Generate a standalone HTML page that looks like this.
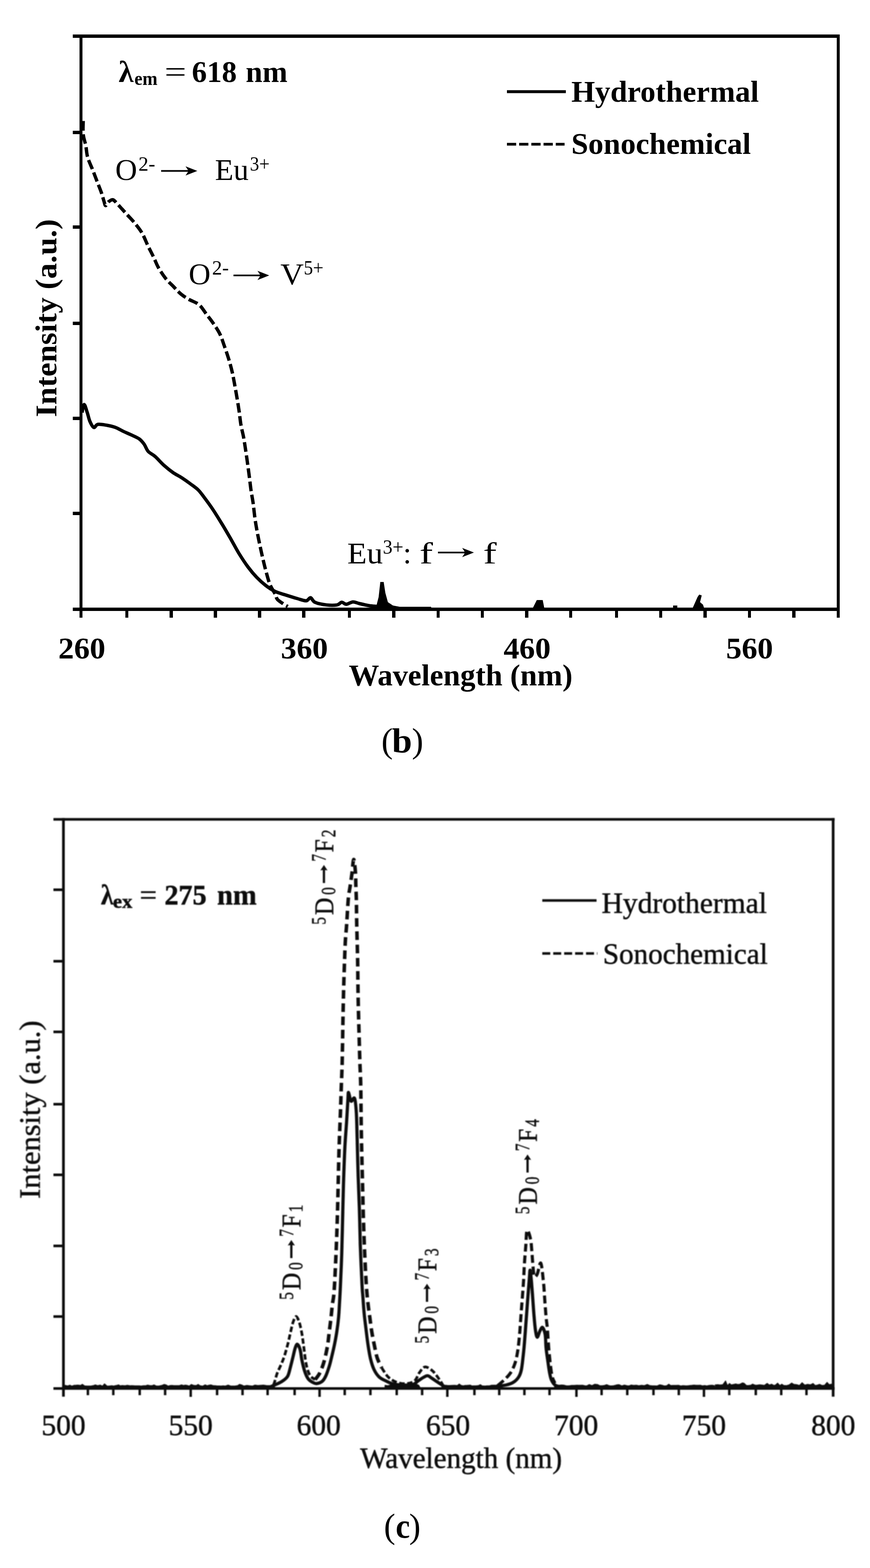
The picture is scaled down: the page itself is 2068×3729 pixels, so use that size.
<!DOCTYPE html>
<html lang="en">
<head>
<meta charset="utf-8">
<title>Excitation and emission spectra</title>
<style>
html,body{margin:0;padding:0;background:#fff;}
body{width:2068px;height:3729px;overflow:hidden;font-family:"Liberation Serif",serif;}
svg{display:block;}
svg text{font-family:"Liberation Serif",serif;fill:#000;}
.cap{font-family:"Liberation Serif",serif;}
</style>
</head>
<body>
<svg width="2068" height="3729" viewBox="0 0 2068 3729">
<rect width="2068" height="3729" fill="#fff"/>
<g id="chart-b">
<g fill="#000" shape-rendering="crispEdges">
<rect x="173" y="82" width="1823" height="8"/>
<rect x="173" y="1445" width="1823" height="8"/>
<rect x="189" y="82" width="7" height="1387"/>
<rect x="1988.5" y="82" width="7.5" height="1387"/>
<rect x="173" y="311" width="18" height="8"/>
<rect x="173" y="536" width="18" height="8"/>
<rect x="173" y="765" width="18" height="8"/>
<rect x="173" y="991" width="18" height="8"/>
<rect x="173" y="1217" width="18" height="8"/>
<rect x="297.7" y="1450" width="7.4" height="19"/>
<rect x="403.3" y="1450" width="7.4" height="19"/>
<rect x="508.2" y="1450" width="7.4" height="19"/>
<rect x="613.2" y="1450" width="7.4" height="19"/>
<rect x="718.2" y="1450" width="7.4" height="19"/>
<rect x="826.7" y="1450" width="7.4" height="19"/>
<rect x="932.3" y="1450" width="7.4" height="19"/>
<rect x="1037.7" y="1450" width="7.4" height="19"/>
<rect x="1142.9" y="1450" width="7.4" height="19"/>
<rect x="1248.1" y="1450" width="7.4" height="19"/>
<rect x="1352.9" y="1450" width="7.4" height="19"/>
<rect x="1461.6" y="1450" width="7.4" height="19"/>
<rect x="1566.8" y="1450" width="7.4" height="19"/>
<rect x="1672.3" y="1450" width="7.4" height="19"/>
<rect x="1777.8" y="1450" width="7.4" height="19"/>
<rect x="1883.3" y="1450" width="7.4" height="19"/>
</g>
<path d="M195,981 C195.8,977.8 197.9,962 200,962 C202.1,962 205,974.2 207.3,980.9 C209.6,987.5 211,995.9 213.6,1001.9 C216.2,1007.9 219.8,1015.4 223,1016.6 C226.2,1017.8 227.4,1010.1 232.5,1009.2 C237.6,1008.3 246.5,1010.1 253.5,1011.3 C260.5,1012.5 267.9,1014.1 274.5,1016.6 C281.1,1019.1 287.1,1023 293.4,1026 C299.7,1029 306,1031.4 312.3,1034.4 C318.6,1037.4 326.1,1040.2 331.2,1043.9 C336.3,1047.6 339.2,1051.6 342.7,1056.5 C346.2,1061.4 347.7,1068.4 352.1,1073.3 C356.5,1078.2 362.6,1080.2 368.9,1085.8 C375.2,1091.4 382.9,1100.5 389.9,1106.8 C396.9,1113.1 403.9,1118.7 410.9,1123.6 C417.9,1128.5 424.9,1131.7 431.9,1136.2 C438.9,1140.8 446.4,1146.1 452.9,1150.9 C459.4,1155.7 465.4,1159.5 471,1165 C476.6,1170.5 480.2,1176.1 486.3,1184.2 C492.4,1192.3 500.3,1203.1 507.3,1213.6 C514.3,1224.1 521.3,1235.7 528.3,1247.2 C535.3,1258.8 542.6,1271.4 549.3,1282.9 C555.9,1294.5 561.6,1305.7 568.2,1316.5 C574.9,1327.3 582.2,1338.6 589.2,1348 C596.2,1357.4 603.2,1365.8 610.2,1373.1 C617.2,1380.4 623.9,1386.4 631.2,1392 C638.5,1397.6 646.2,1402.9 654.2,1406.7 C662.2,1410.5 670.6,1412.3 679.4,1415.1 C688.1,1417.9 698.7,1421.2 706.7,1423.5 C714.8,1425.8 722.5,1429.1 727.7,1428.8 C733,1428.5 734.7,1420.8 738.2,1421.4 C741.7,1422 742.4,1429.4 748.7,1432.3 C755,1435.2 767.2,1437.5 776,1438.6 C784.8,1439.6 795.2,1439.6 801.2,1438.6 C807.2,1437.5 808.5,1432.6 812.2,1432.3 C815.9,1432 818.7,1437.2 823.2,1437 C827.7,1436.8 833.8,1431.7 839,1431.4 C844.2,1431.2 848.4,1434 854.7,1435.5 C861,1437 869.9,1439.1 876.7,1440.2 C883.5,1441.3 892.5,1441.7 895.6,1442" fill="none" stroke="#000" stroke-width="8" stroke-linejoin="round"/>
<path d="M197.8,287.8 C197.8,293.1 196.8,309.5 197.8,319.3 C198.8,329.1 202.2,337.5 204,346.6 C205.8,355.7 205.6,364.4 208.3,373.9 C211,383.3 216.3,393.9 220,403.3 C223.7,412.7 226.9,421.4 230.4,430.5 C233.9,439.6 238.1,449.9 240.9,457.8 C243.7,465.7 245.3,472.8 247,478 C248.7,483.2 249.2,488.7 251,489 C252.8,489.3 255.1,482.3 258,480 C260.9,477.7 264.7,474.2 268.2,475 C271.7,475.8 275.4,481.3 279,485 C282.6,488.7 285.8,492.4 290,497 C294.2,501.6 298.8,506.8 304,512.5 C309.2,518.2 315.4,524.5 321,531.5 C326.6,538.5 332.7,545.9 337.8,554.6 C342.9,563.4 346.9,574.5 351.4,584 C355.9,593.5 360.8,602.5 365,611.3 C369.2,620 371.9,628.1 376.6,636.5 C381.3,644.9 387.3,654 393.4,661.7 C399.5,669.4 407.3,676.3 413.4,682.6 C419.5,688.9 424.3,694.5 430.2,699.4 C436.1,704.3 441.8,707.8 449,712 C456.2,716.2 466.2,718.6 473.2,724.6 C480.2,730.6 485.4,740.4 491,747.7 C496.6,755.1 501.6,761 506.8,768.7 C512,776.4 518.1,785.1 522.5,794 C526.9,802.9 529.5,812.1 533,822 C536.5,831.9 540.3,842.9 543.5,853.4 C546.7,863.9 549.7,875.1 552,885 C554.3,894.9 555.5,902.2 557.5,913 C559.5,923.8 562.1,938.9 564,950 C565.9,961.1 567.1,969.2 568.6,979.4 C570.1,989.5 571,1000.8 572.8,1010.9 C574.5,1021 577.2,1029.8 579.1,1040.3 C581,1050.8 582.8,1063.4 584.4,1073.9 C586,1084.4 587.2,1093.2 588.6,1103.3 C590,1113.4 591.4,1123.9 592.8,1134.7 C594.2,1145.5 595.5,1158.2 597,1168.3 C598.5,1178.3 600,1184.3 601.5,1195 C603,1205.7 604.4,1221 606,1232.5 C607.6,1244 609.3,1253.5 611.2,1264 C613.1,1274.5 615.2,1284.7 617.5,1295.5 C619.8,1306.3 622.4,1318.5 624.9,1329 C627.4,1339.5 629.4,1348.2 632.2,1358.4 C635,1368.6 638,1380.9 641.7,1390 C645.4,1399.1 651.2,1407.1 654.2,1413 C657.2,1418.9 656,1421.6 659.5,1425.6 C663,1429.6 671.1,1434.4 675.2,1437.2 C679.3,1440 682.5,1441.5 684,1442.4" fill="none" stroke="#000" stroke-width="8" stroke-dasharray="23 8.5"/>
<g fill="#000">
<path d="M893,1447 L900,1420 L904,1384 L912,1384 L916,1410 L922,1432 L934,1440 L950,1443 L1025,1443 L1025,1447 Z"/>
<path d="M1266,1447 L1276,1427 L1290,1427 L1294,1447 Z"/>
<path d="M1646,1447 L1658,1420 L1662,1414 L1668,1416 L1664,1432 L1671,1438 L1674,1447 Z"/>
<rect x="1600" y="1440" width="10" height="6"/>
</g>
<path d="M383,404.5 L447,404.5 L441,395.5 L469,406.5 L441,417.5 L447,408.5 L383,408.5 Z" fill="#000"/>
<path d="M555,653 L618,653 L612,644 L640,655 L612,666 L618,657 L555,657 Z" fill="#000"/>
<path d="M1041,1312 L1104.5,1312 L1098.5,1303 L1126.5,1314 L1098.5,1325 L1104.5,1316 L1041,1316 Z" fill="#000"/>
<text font-size="72" font-weight="bold"><tspan x="282" y="194.5">λ</tspan><tspan x="319.5" y="202" font-size="46" textLength="55" lengthAdjust="spacingAndGlyphs">em</tspan> <tspan x="391" y="194.5" font-weight="normal" textLength="52" lengthAdjust="spacingAndGlyphs">=</tspan> <tspan x="456" textLength="107" lengthAdjust="spacingAndGlyphs">618</tspan> <tspan x="584" textLength="99.5" lengthAdjust="spacingAndGlyphs">nm</tspan></text>
<g font-weight="bold">
<text x="1358" y="242" font-size="72" textLength="446" lengthAdjust="spacingAndGlyphs">Hydrothermal</text>
<text x="1358" y="366" font-size="72" textLength="427" lengthAdjust="spacingAndGlyphs">Sonochemical</text>
<text x="138.6" y="1566" font-size="72" textLength="112" lengthAdjust="spacingAndGlyphs">260</text>
<text x="667.6" y="1566" font-size="72" textLength="112" lengthAdjust="spacingAndGlyphs">360</text>
<text x="1197" y="1566" font-size="72" textLength="112" lengthAdjust="spacingAndGlyphs">460</text>
<text x="1725.7" y="1566" font-size="72" textLength="112" lengthAdjust="spacingAndGlyphs">560</text>
<text x="829" y="1630" font-size="72" textLength="532" lengthAdjust="spacingAndGlyphs">Wavelength (nm)</text>
<text transform="translate(134,992) rotate(-90)" font-size="72" textLength="471" lengthAdjust="spacingAndGlyphs">Intensity (a.u.)</text>
</g>
<rect x="1205" y="214.5" width="140" height="7" fill="#000"/>
<path d="M1205,343 H1342" stroke="#000" stroke-width="6.4" stroke-dasharray="22 7" fill="none"/>
<text font-size="72"><tspan x="274" y="427.5">O</tspan><tspan x="329" y="406" font-size="48">2-</tspan> <tspan x="511" y="427.5">Eu</tspan><tspan x="594" y="406" font-size="48" textLength="47" lengthAdjust="spacingAndGlyphs">3+</tspan></text>
<text font-size="72"><tspan x="448.5" y="676">O</tspan><tspan x="504" y="653" font-size="48">2-</tspan> <tspan x="666.5" y="676" textLength="55.5" lengthAdjust="spacingAndGlyphs">V</tspan><tspan x="722" y="653" font-size="48" textLength="47" lengthAdjust="spacingAndGlyphs">5+</tspan></text>
<text font-size="72"><tspan x="825.5" y="1339.5" textLength="84.5" lengthAdjust="spacingAndGlyphs">Eu</tspan><tspan x="910" y="1316.5" font-size="48" textLength="49" lengthAdjust="spacingAndGlyphs">3+</tspan><tspan x="958" y="1339.5">:</tspan> <tspan x="997" textLength="32" lengthAdjust="spacingAndGlyphs">f</tspan> <tspan x="1148.5" textLength="32" lengthAdjust="spacingAndGlyphs">f</tspan></text>
<text class="cap" y="1789" font-size="82"><tspan x="906.5">(</tspan><tspan x="931.5" font-weight="bold" textLength="48" lengthAdjust="spacingAndGlyphs">b</tspan><tspan x="979">)</tspan></text>
</g>
<defs><filter id="soft" x="-2%" y="-2%" width="104%" height="104%"><feGaussianBlur stdDeviation="1.15"/></filter></defs>
<g id="chart-c" filter="url(#soft)">
<g fill="#0c0c0c">
<rect x="127" y="1945.5" width="1857" height="6.2"/>
<rect x="127" y="3299" width="1857" height="6.2"/>
<rect x="147.6" y="1945.5" width="6.4" height="1376"/>
<rect x="1977.2" y="1945.5" width="6.4" height="1376"/>
<rect x="127" y="2112.9" width="22" height="6.2"/>
<rect x="127" y="2282.9" width="22" height="6.2"/>
<rect x="127" y="2450.9" width="22" height="6.2"/>
<rect x="127" y="2622.9" width="22" height="6.2"/>
<rect x="127" y="2790.9" width="22" height="6.2"/>
<rect x="127" y="2959.9" width="22" height="6.2"/>
<rect x="127" y="3127.9" width="22" height="6.2"/>
<rect x="206" y="3302" width="5.8" height="16"/>
<rect x="266.4" y="3302" width="5.8" height="16"/>
<rect x="329.2" y="3302" width="5.8" height="16"/>
<rect x="389.6" y="3302" width="5.8" height="16"/>
<rect x="450.4" y="3302" width="5.8" height="20"/>
<rect x="513.1" y="3302" width="5.8" height="16"/>
<rect x="573.6" y="3302" width="5.8" height="16"/>
<rect x="633.2" y="3302" width="5.8" height="16"/>
<rect x="697.4" y="3302" width="5.8" height="16"/>
<rect x="756.7" y="3302" width="5.8" height="20"/>
<rect x="816.5" y="3302" width="5.8" height="16"/>
<rect x="877.6" y="3302" width="5.8" height="16"/>
<rect x="940.1" y="3302" width="5.8" height="16"/>
<rect x="1000.5" y="3302" width="5.8" height="16"/>
<rect x="1060.4" y="3302" width="5.8" height="20"/>
<rect x="1124.8" y="3302" width="5.8" height="16"/>
<rect x="1183.8" y="3302" width="5.8" height="16"/>
<rect x="1243.6" y="3302" width="5.8" height="16"/>
<rect x="1303.3" y="3302" width="5.8" height="16"/>
<rect x="1367.3" y="3302" width="5.8" height="20"/>
<rect x="1427.1" y="3302" width="5.8" height="16"/>
<rect x="1488.1" y="3302" width="5.8" height="16"/>
<rect x="1550.4" y="3302" width="5.8" height="16"/>
<rect x="1610.6" y="3302" width="5.8" height="16"/>
<rect x="1670.4" y="3302" width="5.8" height="20"/>
<rect x="1730.6" y="3302" width="5.8" height="16"/>
<rect x="1793.6" y="3302" width="5.8" height="16"/>
<rect x="1854.1" y="3302" width="5.8" height="16"/>
<rect x="1914.1" y="3302" width="5.8" height="16"/>
</g>
<path d="M154,3302 L154,3294.2 L160.8,3295.7 L166.2,3294 L170.7,3296.2 L176.3,3294.2 L180.5,3294.1 L185.5,3293.7 L191.5,3294.6 L195.7,3291.9 L201.6,3295.8 L207.5,3296.1 L213.1,3296.1 L217.2,3295.8 L221.3,3295.1 L226.7,3293.3 L232.3,3295.1 L238.2,3293.8 L243.6,3296.3 L248.4,3290.7 L254.9,3296.2 L261,3295.8 L265.9,3295.2 L270.1,3296.1 L276.7,3294.6 L281.8,3293.1 L285.8,3295.4 L290.4,3294.7 L297.4,3295.3 L302.6,3294.2 L308.9,3295.2 L313.7,3295 L320.6,3295.5 L326.9,3295.4 L331.2,3295.4 L335.4,3296 L341.1,3295.3 L346.4,3295.3 L350.8,3293.7 L356.7,3295 L361.4,3295.1 L366.2,3293.3 L371.1,3295.7 L377.7,3295.9 L384.3,3294.6 L390.2,3292.2 L394.9,3293.3 L399.6,3296.1 L404.5,3294.8 L408.7,3294.4 L413.5,3295.1 L419.3,3295 L426.2,3295 L431.6,3293.3 L436.2,3294.8 L440.6,3293.7 L445.4,3294.6 L449.9,3296 L454.5,3292.3 L461.4,3294.6 L466.6,3294.7 L471,3292.1 L475.7,3295.3 L481.8,3296.2 L487.6,3293.1 L492.5,3295.1 L496.7,3293.9 L501.3,3293.2 L507.2,3295.1 L512,3295.3 L516.1,3295.7 L520.9,3295.7 L525.4,3296.1 L530.5,3295.5 L535.6,3295.9 L542.3,3293.8 L548.4,3296 L554.1,3296 L558.2,3295.9 L564.9,3295 L569,3292.1 L574.9,3293.6 L579.8,3296 L586.8,3294.4 L593,3295.3 L599.7,3296.1 L606.1,3293.7 L612.9,3294.8 L619.6,3294.2 L626.2,3293.7 L632.8,3294.8 L638.5,3295.1 L644.2,3295.1 L650.1,3294.2 L655,3302 Z" fill="#0c0c0c" stroke="#0c0c0c" stroke-width="1.5" stroke-linejoin="round"/>
<path d="M915,3302 L915,3294.3 L921.6,3295.3 L927.8,3293.7 L933.6,3292.3 L937.8,3294.2 L944.1,3293.1 L949.5,3295 L954.2,3294.8 L960.1,3293.5 L966.8,3295.5 L971.7,3295.2 L977.8,3295.2 L984.5,3294.5 L990.5,3292 L995.4,3294.1 L1000,3302 Z" fill="#0c0c0c" stroke="#0c0c0c" stroke-width="1.5" stroke-linejoin="round"/>
<path d="M1050,3302 L1050,3295.3 L1056.4,3294 L1063.2,3294.6 L1068.9,3294.7 L1073.9,3294.5 L1080.4,3294.2 L1086.9,3294.8 L1091.7,3291.2 L1096.3,3294.5 L1100.9,3295.5 L1106.1,3294.4 L1111.1,3294.3 L1117.6,3293.8 L1121.8,3295.8 L1125.9,3295.6 L1132,3295.6 L1137.8,3294.7 L1141.8,3292.7 L1146.2,3295.6 L1152.7,3295.9 L1157.4,3295.6 L1163.3,3295.5 L1168.7,3294 L1175.1,3293.9 L1181.9,3295.5 L1187.4,3294.8 L1191.9,3293.7 L1195,3302 Z" fill="#0c0c0c" stroke="#0c0c0c" stroke-width="1.5" stroke-linejoin="round"/>
<path d="M1318,3302 L1318,3295.8 L1322.5,3295.7 L1328.6,3294.2 L1334.2,3293.5 L1339.4,3293.8 L1345.7,3295.3 L1352.5,3295.5 L1358.7,3294.5 L1364.6,3294.4 L1371.3,3294.1 L1378,3294.2 L1384.3,3293.9 L1390.3,3295.2 L1394.9,3295.4 L1400.8,3292.4 L1407,3295 L1413.9,3291.8 L1420.9,3292.6 L1425.8,3295.2 L1432.6,3294.9 L1436.8,3294.5 L1442.1,3292.7 L1447.6,3294.9 L1451.7,3295.7 L1458.1,3295.3 L1462.6,3294.2 L1467,3293 L1471.5,3292.8 L1478,3295.7 L1484.1,3293.8 L1490.9,3295.2 L1495.2,3295.6 L1500,3293.6 L1506.2,3294.4 L1512.7,3294.1 L1518.4,3295.3 L1525,3294.2 L1531.7,3295 L1538.6,3292.2 L1544.1,3294.8 L1549.7,3295.4 L1555.3,3295.6 L1562.2,3295.7 L1567.7,3293.1 L1573.4,3293.9 L1578.9,3295.7 L1584.5,3295.3 L1589.7,3291.6 L1594.5,3294.8 L1600,3294.5 L1606.4,3294.5 L1613.1,3294.3 L1617.7,3295.7 L1623.5,3295.1 L1629.9,3295.5 L1633.9,3295.5 L1640,3294.7 L1645,3294.3 L1649.3,3293.8 L1655.5,3294.3 L1660.2,3294.3 L1664.8,3293.9 L1669.9,3295.6 L1675.2,3294.8 L1679.8,3295.8 L1685.7,3294.4 L1692.2,3294.1 L1698.1,3295.1 L1700,3302 Z" fill="#0c0c0c" stroke="#0c0c0c" stroke-width="1.5" stroke-linejoin="round"/>
<path d="M1700,3302 L1700,3293.2 L1706.4,3292.7 L1711.4,3293.4 L1718.1,3292.7 L1724.8,3283.8 L1729.2,3294.7 L1734,3289.9 L1738.3,3293.3 L1744.6,3292.1 L1749,3291 L1753.1,3292.2 L1757.7,3292.1 L1764.6,3288.6 L1768.9,3289.6 L1774.4,3294.8 L1780.5,3294.5 L1784.8,3293.9 L1788.9,3291.4 L1794.6,3293.8 L1799.1,3294.1 L1805.6,3293 L1812.6,3293.7 L1816.8,3294.4 L1823.6,3289.7 L1828.6,3293.7 L1834,3291.6 L1839.8,3294.7 L1843.8,3293.1 L1848.4,3289.1 L1853.7,3294.8 L1858.3,3291.7 L1862.8,3294.4 L1869.5,3295 L1875.9,3293.2 L1881.8,3288.9 L1887,3291.9 L1894,3292.8 L1900.4,3294.6 L1906.6,3288 L1912.9,3293.7 L1919.6,3292 L1926.3,3293.1 L1932.6,3289.9 L1937.8,3294.8 L1942.8,3293.8 L1948.2,3292 L1954.1,3294.8 L1960,3294.1 L1966,3287.3 L1971,3292.8 L1976.6,3291.5 L1978,3302 Z" fill="#0c0c0c" stroke="#0c0c0c" stroke-width="1.5" stroke-linejoin="round"/>
<path d="M645,3297 C648,3295.7 658.2,3291.6 663,3289.3 C667.8,3287 670,3285.8 673.5,3283 C677,3280.2 681.2,3277.8 684,3272.5 C686.8,3267.2 688.2,3259.2 690.3,3251.5 C692.4,3243.8 694.7,3234 696.6,3226.3 C698.5,3218.6 700.1,3210.3 701.8,3205.4 C703.5,3200.5 705.1,3196.3 707,3197 C708.9,3197.7 711.6,3203.3 713.4,3209.6 C715.2,3215.9 715.9,3226.3 717.6,3234.7 C719.4,3243.1 721.5,3252.7 723.9,3260 C726.3,3267.3 729.1,3274.3 732.3,3278.8 C735.4,3283.3 739.5,3285.3 742.8,3287.2 C746.1,3289.1 748.4,3290.8 752.2,3290.4 C756.1,3290 762.2,3288 765.9,3285 C769.6,3282 771.5,3278.4 774.3,3272.5 C777.1,3266.6 780.1,3257.4 782.6,3249.4 C785.1,3241.4 786.9,3233 789,3224.3 C791.1,3215.6 793.3,3206.4 795.2,3197 C797.1,3187.6 798.9,3178.1 800.5,3167.6 C802.1,3157.1 803.7,3144.8 804.7,3134 C805.8,3123.2 806.1,3114.5 806.8,3102.5 C807.5,3090.5 808.1,3082.1 809,3062 C809.9,3041.9 811.4,3009.2 812.3,2981.9 C813.2,2954.6 813.7,2925.9 814.4,2897.9 C815.1,2869.9 815.6,2841.9 816.5,2813.9 C817.4,2785.9 818.5,2754.5 819.7,2730 C820.9,2705.5 822.7,2686.2 823.9,2667 C825.1,2647.8 826.2,2626 827,2614.5 C827.8,2603 827.3,2597.3 828.5,2598 C829.7,2598.7 832,2616.4 834.4,2618.7 C836.8,2621 840.7,2607.4 842.8,2612 C844.9,2616.6 846,2629.8 847,2646 C848,2662.2 848.3,2684.5 849,2709 C849.7,2733.5 850.3,2765 851.2,2793 C852.1,2821 853.4,2848.9 854.3,2876.9 C855.2,2904.9 855.4,2931.2 856.4,2960.9 C857.4,2990.6 859.5,3034.9 860.5,3055 C861.5,3075.1 861.5,3070.1 862.4,3081.5 C863.2,3092.9 864.4,3110.6 865.6,3123.5 C866.8,3136.4 868.3,3146.9 869.8,3159.2 C871.3,3171.4 872.8,3185 874.6,3197 C876.4,3209 878.2,3221.1 880.6,3231 C883,3240.9 885.4,3249.2 888.8,3256.5 C892.2,3263.8 896.2,3269.8 901,3274.5 C905.8,3279.2 912.5,3281.7 917.8,3284.4 C923,3287.1 926.5,3289.1 932.5,3290.7 C938.5,3292.3 945.5,3293.5 953.5,3293.8 C961.5,3294.2 974.1,3294.4 980.8,3292.8 C987.4,3291.2 989.2,3287.2 993.4,3284.4 C997.6,3281.6 1002.1,3278.1 1006,3276 C1009.9,3273.9 1013,3271.5 1016.5,3271.8 C1020,3272.1 1023.1,3275.6 1027,3278 C1030.8,3280.4 1035,3283.5 1039.6,3286.5 C1044.1,3289.5 1051.8,3294.4 1054.3,3296" fill="none" stroke="#0c0c0c" stroke-width="7.6" stroke-linejoin="round" stroke-linecap="round"/>
<path d="M1172,3297.8 C1177.2,3297.1 1195.5,3295.3 1203.5,3293.6 C1211.5,3291.8 1215.4,3290.5 1220.3,3287.3 C1225.2,3284.2 1229.8,3279.6 1232.9,3274.7 C1236.1,3269.8 1237.5,3265.9 1239.2,3257.9 C1241,3249.9 1242.2,3236.9 1243.4,3226.4 C1244.6,3215.9 1245.5,3207.2 1246.5,3194.9 C1247.5,3182.7 1248.7,3166.9 1249.7,3152.9 C1250.8,3138.9 1251.8,3124.9 1252.8,3110.9 C1253.8,3096.9 1255,3081.2 1256,3069 C1257,3056.8 1257.8,3045.5 1258.5,3037.5 C1259.2,3029.5 1259.4,3019.2 1260.2,3021 C1261,3022.8 1262.2,3036.5 1263.3,3048 C1264.3,3059.5 1265.5,3076 1266.5,3090 C1267.5,3104 1268.5,3119.7 1269.6,3131.9 C1270.6,3144.1 1271.6,3155.4 1272.8,3163.4 C1274,3171.4 1275.2,3179.8 1277,3180.2 C1278.8,3180.5 1281.2,3169.4 1283.3,3165.5 C1285.4,3161.6 1287.5,3155.6 1289.6,3157 C1291.7,3158.4 1294.5,3165.8 1295.9,3173.9 C1297.3,3182 1297,3194.9 1298,3205.4 C1299,3215.9 1300.8,3227.1 1302.2,3236.9 C1303.6,3246.7 1304.9,3256.8 1306.3,3264.2 C1307.7,3271.5 1308.4,3276.1 1310.5,3281 C1312.6,3285.9 1315.5,3290.8 1319,3293.6 C1322.5,3296.4 1329.4,3297.3 1331.5,3298" fill="none" stroke="#0c0c0c" stroke-width="7.6" stroke-linejoin="round" stroke-linecap="round"/>
<path d="M650,3294 C650.4,3292.9 651,3291.8 652.5,3287.2 C654,3282.6 656.3,3272.8 658.8,3266.2 C661.2,3259.5 664.4,3254 667.2,3247.3 C670,3240.7 672.8,3234.7 675.6,3226.3 C678.4,3217.9 681.5,3206.4 684,3197 C686.5,3187.6 688.2,3178.4 690.3,3169.7 C692.4,3160.9 694.3,3151 696.6,3144.5 C698.9,3138 701.5,3130.8 703.9,3130.8 C706.3,3130.8 709,3137.7 711.3,3144.5 C713.6,3151.3 715.9,3162.4 717.6,3171.8 C719.4,3181.2 720.1,3189 721.8,3201.2 C723.5,3213.4 725.5,3233.7 728,3245.2 C730.5,3256.7 733,3264.4 736.5,3270.4 C740,3276.4 746.9,3279.2 749,3281" fill="none" stroke="#0c0c0c" stroke-width="6.4" stroke-dasharray="13 6"/>
<path d="M749,3281 C750.8,3278.5 756.1,3273.2 759.6,3266.2 C763.1,3259.2 766.9,3249.8 770,3239 C773.1,3228.2 776.3,3213.1 778.4,3201.2 C780.5,3189.3 781.2,3178.8 782.6,3167.6 C784,3156.4 785.6,3144.8 786.8,3134 C788,3123.2 788.8,3113 790,3102.5 C791.2,3092 792.8,3091.1 794.2,3071 C795.7,3050.9 797.4,3010.8 798.7,2981.9 C800,2953.1 800.9,2925.9 801.8,2897.9 C802.7,2869.9 803.2,2841.9 803.9,2813.9 C804.6,2785.9 805.1,2758 806,2730 C806.9,2702 808.3,2670.5 809.2,2646 C810.1,2621.5 810.6,2603.2 811.3,2583 C812,2562.8 812.7,2553.8 813.4,2525 C814.1,2496.2 814.8,2443.1 815.5,2409.9 C816.2,2376.7 816.7,2353.9 817.6,2325.9 C818.5,2297.9 819.7,2262.9 820.7,2241.9 C821.8,2220.9 822.7,2217.5 823.9,2200 C825.1,2182.5 826.6,2152.4 828,2137 C829.4,2121.6 830.9,2117.4 832.3,2107.6 C833.7,2097.8 835.1,2088.8 836.5,2078.2 C837.9,2067.6 839.3,2044.7 840.7,2044 C842.1,2043.3 844,2063.4 844.9,2074 C845.8,2084.6 845.5,2097.1 845.9,2107.6 C846.2,2118.1 846.6,2121.6 847,2137 C847.4,2152.4 847.5,2175.5 848,2200 C848.5,2224.5 849.6,2255.9 850.1,2283.9 C850.6,2311.9 850.7,2339.9 851.2,2367.9 C851.7,2395.9 852.6,2425.7 853.3,2451.9 C854,2478.1 854.7,2503.2 855.4,2525 C856.1,2546.8 857,2559.3 857.5,2583 C858,2606.7 858.1,2642.5 858.5,2667 C858.9,2691.5 859.1,2705.5 859.6,2730 C860.1,2754.5 861,2785.9 861.7,2813.9 C862.4,2841.9 862.9,2869.9 863.8,2897.9 C864.7,2925.9 865.7,2954.9 866.9,2981.9 C868.1,3008.9 869.6,3039.9 871,3060 C872.4,3080.1 873.6,3090.2 875,3102.5 C876.4,3114.8 877.7,3122.9 879.2,3134 C880.7,3145.1 882.1,3157.6 884,3169 C885.9,3180.4 888.4,3192.4 890.5,3202.5 C892.6,3212.6 894,3221.4 896.8,3229.8 C899.6,3238.2 905.5,3249.1 907.3,3252.9" fill="none" stroke="#0c0c0c" stroke-width="8.4" stroke-dasharray="20.5 11"/>
<path d="M907.3,3252.9 C909.8,3256.4 916.4,3268.3 922,3273.9 C927.6,3279.5 933.9,3283.7 940.9,3286.5 C947.9,3289.3 956.6,3291 964,3290.7 C971.4,3290.3 979.4,3288.9 985,3284.4 C990.6,3279.9 993.4,3269 997.6,3263.4 C1001.8,3257.8 1005.3,3251.5 1010.2,3250.8 C1015.1,3250.1 1022.1,3255.3 1027,3259.2 C1031.9,3263 1035.4,3268.3 1039.6,3273.9 C1043.8,3279.5 1050.1,3289.7 1052.2,3292.8" fill="none" stroke="#0c0c0c" stroke-width="6.4" stroke-dasharray="13 6"/>
<path d="M1182.5,3295.7 C1185.3,3293.2 1194,3286.2 1199.3,3281 C1204.5,3275.8 1209.8,3270.8 1214,3264.2 C1218.2,3257.5 1221.7,3249.8 1224.5,3241.1 C1227.3,3232.3 1229,3222.9 1230.8,3211.7 C1232.5,3200.5 1233.8,3187.2 1235,3173.9 C1236.2,3160.6 1237,3145.9 1238.1,3131.9 C1239.1,3117.9 1240.2,3104 1241.3,3090 C1242.3,3076 1243.5,3062 1244.4,3048 C1245.3,3034 1245.6,3020 1246.5,3006 C1247.4,2992 1248.7,2977.3 1249.7,2964 C1250.8,2950.7 1250.9,2928.8 1252.8,2926 C1254.7,2923.2 1259.3,2938.4 1261.2,2947.2 C1263.1,2956 1263.5,2968.9 1264.4,2978.7 C1265.3,2988.5 1265.6,2996.6 1266.5,3006 C1267.4,3015.4 1268.2,3031 1270,3035 C1271.8,3039 1274.4,3035.2 1277,3030 C1279.6,3024.8 1283,3000.9 1285.4,3003.9 C1287.9,3006.9 1290.1,3033.7 1291.7,3048 C1293.3,3062.3 1293.8,3076 1294.8,3090 C1295.8,3104 1297,3120.4 1298,3131.9 C1299,3143.4 1300,3146.9 1301.1,3159.2 C1302.1,3171.4 1303.1,3190.7 1304.3,3205.4 C1305.5,3220.1 1307.1,3235.9 1308.5,3247.4 C1309.9,3258.9 1311,3267.7 1312.7,3274.7 C1314.5,3281.7 1318,3286.9 1319,3289.4" fill="none" stroke="#0c0c0c" stroke-width="7.4" stroke-dasharray="19 9"/>
<g transform="translate(714,3090) rotate(-90)" fill="#0c0c0c">
<text font-size="63" style="fill:#0c0c0c;stroke:#0c0c0c;stroke-width:0.9px"><tspan x="-1" y="-17.5" font-size="48" textLength="18" lengthAdjust="spacingAndGlyphs">5</tspan><tspan x="22" y="0" textLength="41" lengthAdjust="spacingAndGlyphs">D</tspan><tspan x="70" y="5" font-size="48" textLength="18" lengthAdjust="spacingAndGlyphs">0</tspan> <tspan x="149" y="-17.5" font-size="48" textLength="18" lengthAdjust="spacingAndGlyphs">7</tspan><tspan x="171" y="0" textLength="31" lengthAdjust="spacingAndGlyphs">F</tspan><tspan x="207" y="5" font-size="48" textLength="18" lengthAdjust="spacingAndGlyphs">1</tspan></text>
<path d="M98,-24.2 L129,-24.2 L128,-30 L141,-21.5 L128,-13 L129,-18.8 L98,-18.8 Z"/>
</g>
<g transform="translate(791.5,2198) rotate(-90)" fill="#0c0c0c">
<text font-size="63" style="fill:#0c0c0c;stroke:#0c0c0c;stroke-width:0.9px"><tspan x="-1" y="-17.5" font-size="48" textLength="18" lengthAdjust="spacingAndGlyphs">5</tspan><tspan x="22" y="0" textLength="41" lengthAdjust="spacingAndGlyphs">D</tspan><tspan x="70" y="5" font-size="48" textLength="18" lengthAdjust="spacingAndGlyphs">0</tspan> <tspan x="149" y="-17.5" font-size="48" textLength="18" lengthAdjust="spacingAndGlyphs">7</tspan><tspan x="171" y="0" textLength="31" lengthAdjust="spacingAndGlyphs">F</tspan><tspan x="207" y="5" font-size="48" textLength="18" lengthAdjust="spacingAndGlyphs">2</tspan></text>
<path d="M98,-24.2 L129,-24.2 L128,-30 L141,-21.5 L128,-13 L129,-18.8 L98,-18.8 Z"/>
</g>
<g transform="translate(1036.5,3194) rotate(-90)" fill="#0c0c0c">
<text font-size="63" style="fill:#0c0c0c;stroke:#0c0c0c;stroke-width:0.9px"><tspan x="-1" y="-17.5" font-size="48" textLength="18" lengthAdjust="spacingAndGlyphs">5</tspan><tspan x="22" y="0" textLength="41" lengthAdjust="spacingAndGlyphs">D</tspan><tspan x="70" y="5" font-size="48" textLength="18" lengthAdjust="spacingAndGlyphs">0</tspan> <tspan x="149" y="-17.5" font-size="48" textLength="18" lengthAdjust="spacingAndGlyphs">7</tspan><tspan x="171" y="0" textLength="31" lengthAdjust="spacingAndGlyphs">F</tspan><tspan x="207" y="5" font-size="48" textLength="18" lengthAdjust="spacingAndGlyphs">3</tspan></text>
<path d="M98,-24.2 L129,-24.2 L128,-30 L141,-21.5 L128,-13 L129,-18.8 L98,-18.8 Z"/>
</g>
<g transform="translate(1275.5,2886.6) rotate(-90)" fill="#0c0c0c">
<text font-size="63" style="fill:#0c0c0c;stroke:#0c0c0c;stroke-width:0.9px"><tspan x="-1" y="-17.5" font-size="48" textLength="18" lengthAdjust="spacingAndGlyphs">5</tspan><tspan x="22" y="0" textLength="41" lengthAdjust="spacingAndGlyphs">D</tspan><tspan x="70" y="5" font-size="48" textLength="18" lengthAdjust="spacingAndGlyphs">0</tspan> <tspan x="149" y="-17.5" font-size="48" textLength="18" lengthAdjust="spacingAndGlyphs">7</tspan><tspan x="171" y="0" textLength="31" lengthAdjust="spacingAndGlyphs">F</tspan><tspan x="207" y="5" font-size="48" textLength="18" lengthAdjust="spacingAndGlyphs">4</tspan></text>
<path d="M98,-24.2 L129,-24.2 L128,-30 L141,-21.5 L128,-13 L129,-18.8 L98,-18.8 Z"/>
</g>
<text font-size="68" font-weight="bold" style="fill:#0c0c0c;stroke:#0c0c0c;stroke-width:0.9px"><tspan x="240" y="2150.5" textLength="29.5" lengthAdjust="spacingAndGlyphs">λ</tspan><tspan x="268.5" y="2158.5" font-size="46" textLength="46" lengthAdjust="spacingAndGlyphs">ex</tspan> <tspan x="332" y="2150.5" font-weight="normal" textLength="41" lengthAdjust="spacingAndGlyphs">=</tspan> <tspan x="391" textLength="100" lengthAdjust="spacingAndGlyphs">275</tspan> <tspan x="516" textLength="94" lengthAdjust="spacingAndGlyphs">nm</tspan></text>
<text x="1430" y="2170.5" font-size="70" textLength="393" lengthAdjust="spacingAndGlyphs" style="fill:#0c0c0c;stroke:#0c0c0c;stroke-width:0.9px">Hydrothermal</text>
<text x="1433" y="2291.5" font-size="70" textLength="392" lengthAdjust="spacingAndGlyphs" style="fill:#0c0c0c;stroke:#0c0c0c;stroke-width:0.9px">Sonochemical</text>
<text x="151.1" y="3413" font-size="70" text-anchor="middle" style="fill:#0c0c0c;stroke:#0c0c0c;stroke-width:0.9px">500</text>
<text x="453.3" y="3413" font-size="70" text-anchor="middle" style="fill:#0c0c0c;stroke:#0c0c0c;stroke-width:0.9px">550</text>
<text x="757.4" y="3413" font-size="70" text-anchor="middle" style="fill:#0c0c0c;stroke:#0c0c0c;stroke-width:0.9px">600</text>
<text x="1065" y="3413" font-size="70" text-anchor="middle" style="fill:#0c0c0c;stroke:#0c0c0c;stroke-width:0.9px">650</text>
<text x="1369.5" y="3413" font-size="70" text-anchor="middle" style="fill:#0c0c0c;stroke:#0c0c0c;stroke-width:0.9px">700</text>
<text x="1673.3" y="3413" font-size="70" text-anchor="middle" style="fill:#0c0c0c;stroke:#0c0c0c;stroke-width:0.9px">750</text>
<text x="1980.8" y="3413" font-size="70" text-anchor="middle" style="fill:#0c0c0c;stroke:#0c0c0c;stroke-width:0.9px">800</text>
<text x="856" y="3491" font-size="70" textLength="480" lengthAdjust="spacingAndGlyphs" style="fill:#0c0c0c;stroke:#0c0c0c;stroke-width:0.9px">Wavelength (nm)</text>
<text transform="translate(94.5,2851) rotate(-90)" font-size="70" textLength="424" lengthAdjust="spacingAndGlyphs" style="fill:#0c0c0c;stroke:#0c0c0c;stroke-width:0.9px">Intensity (a.u.)</text>
<rect x="1289" y="2138.5" width="129" height="6" fill="#0c0c0c"/>
<path d="M1289,2267.5 H1420" stroke="#0c0c0c" stroke-width="6" stroke-dasharray="19 7" fill="none"/>
</g>
<text class="cap" y="3657" font-size="82"><tspan x="912.5">(</tspan><tspan x="940.5" font-weight="bold" textLength="34" lengthAdjust="spacingAndGlyphs">c</tspan><tspan x="972.5">)</tspan></text>
</svg>
</body>
</html>
